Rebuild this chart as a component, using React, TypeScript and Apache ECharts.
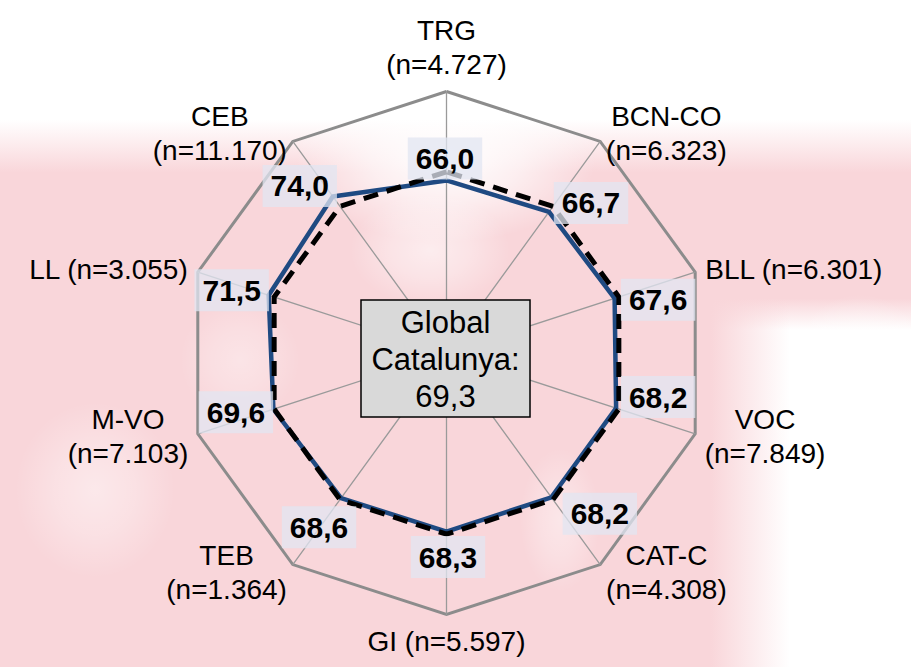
import React, { useEffect, useRef } from "react";
import * as echarts from "echarts";

// Indicator order goes counter-clockwise from the top (ECharts radar convention)
const categories = ["TRG", "CEB", "LL", "M-VO", "TEB", "GI", "CAT-C", "VOC", "BLL", "BCN-CO"];
const sampleSizes = ["4.727", "11.170", "3.055", "7.103", "1.364", "5.597", "4.308", "7.849", "6.301", "6.323"];
const twoLineName = [true, true, false, true, true, false, true, true, false, true];
const scores = [66.0, 74.0, 71.5, 69.6, 68.6, 68.3, 68.2, 68.2, 67.6, 66.7];
const globalScores = [69.3, 69.3, 69.3, 69.3, 69.3, 69.3, 69.3, 69.3, 69.3, 69.3];
const globalValue = 69.3;
const axisMin = 0;
const axisMax = 100;

// label placement (style), px offsets from each point
const labelOffsets: number[][] = [
  [-1.5, -22],
  [-33, -10.5],
  [-37, -5],
  [-37.5, 3],
  [-22, 29],
  [1.5, 25.5],
  [48.5, 16.5],
  [42, -11],
  [43.5, 1.5],
  [42, -9],
];

const FONT = "'Liberation Sans', Arial, Helvetica, sans-serif";
const PINK = "rgba(249,214,218,1)";
const PINK0 = "rgba(249,214,218,0)";

const fmt = (v: number) => v.toFixed(1).replace(".", ",");

function whiteBlob(cx: number, cy: number, r: number, sy: number, a: number) {
  return {
    type: "circle",
    x: cx,
    y: cy,
    scaleY: sy,
    shape: { cx: 0, cy: 0, r },
    style: {
      fill: new echarts.graphic.RadialGradient(0.5, 0.5, 0.5, [
        { offset: 0, color: `rgba(255,255,255,${a})` },
        { offset: 0.5, color: `rgba(255,255,255,${a * 0.6})` },
        { offset: 1, color: "rgba(255,255,255,0)" },
      ]),
    },
    silent: true,
    z: -90,
  };
}

export default function App() {
  const ref = useRef<HTMLDivElement>(null);

  useEffect(() => {
    if (!ref.current) return;
    const chart = echarts.init(ref.current, null, { renderer: "svg" });

    const background: any[] = [
      { type: "rect", shape: { x: 0, y: 0, width: 911, height: 667 }, style: { fill: "#ffffff" }, silent: true, z: -100 },
      {
        type: "rect",
        shape: { x: 0, y: 120, width: 911, height: 210 },
        style: {
          fill: new echarts.graphic.LinearGradient(0, 0, 0, 1, [
            { offset: 0, color: PINK0 },
            { offset: 0.25, color: PINK },
            { offset: 0.85, color: PINK },
            { offset: 1, color: PINK0 },
          ]),
        },
        silent: true,
        z: -95,
      },
      {
        type: "rect",
        shape: { x: 0, y: 280, width: 790, height: 387 },
        style: {
          fill: new echarts.graphic.LinearGradient(0, 0, 1, 0, [
            { offset: 0, color: PINK },
            { offset: 0.9, color: PINK },
            { offset: 1, color: PINK0 },
          ]),
        },
        silent: true,
        z: -95,
      },
      whiteBlob(446, 160, 150, 0.55, 1),
      whiteBlob(430, 250, 80, 0.7, 0.55),
      whiteBlob(95, 490, 80, 1.1, 0.45),
      whiteBlob(560, 520, 40, 1.8, 0.4),
      whiteBlob(240, 360, 60, 1.0, 0.35),
      whiteBlob(860, 420, 90, 1.4, 0.9),
    ];

    const centerBox: any = {
      type: "group",
      z: 100,
      children: [
        {
          type: "rect",
          shape: { x: 361, y: 300, width: 169, height: 117 },
          style: { fill: "#d9d9d9", stroke: "#000000", lineWidth: 1.5 },
          z: 100,
        },
        {
          type: "text",
          x: 445.5,
          y: 359,
          style: {
            text: `Global\nCatalunya:\n${fmt(globalValue)}`,
            font: `31px ${FONT}`,
            lineHeight: 37,
            fill: "#000000",
            align: "center",
            verticalAlign: "middle",
          },
          z: 101,
        },
      ],
    };

    const option: any = {
      animation: false,
      backgroundColor: "#ffffff",
      graphic: [...background, centerBox],
      radar: {
        center: [446.5, 353],
        radius: 261.5,
        startAngle: 90,
        shape: "polygon",
        splitNumber: 1,
        nameGap: 10,
        indicator: categories.map((c) => ({ name: c, min: axisMin, max: axisMax })),
        axisName: {
          color: "#000000",
          fontSize: 28,
          fontFamily: FONT,
          formatter: (name: string) => {
            const i = categories.indexOf(name);
            if (twoLineName[i]) return `{n|${name}}\n{n|(n=${sampleSizes[i]})}`;
            return `{n|${name} (n=${sampleSizes[i]})}`;
          },
          rich: {
            n: { align: "center", fontSize: 28, lineHeight: 34, color: "#000000", fontFamily: FONT },
          },
        },
        axisLine: { lineStyle: { color: "#9a9a9a", width: 1.3 } },
        splitLine: { lineStyle: { color: "#8c8c8c", width: 3 } },
        splitArea: { show: false },
        axisTick: { show: false },
        axisLabel: { show: false },
      },
      series: [
        {
          type: "radar",
          z: 3,
          symbol: "none",
          silent: true,
          lineStyle: { color: "#1f4a82", width: 4.5 },
          data: [{ value: scores, name: "Puntuació" }],
        },
        {
          type: "radar",
          z: 4,
          symbol: "none",
          silent: true,
          lineStyle: { color: "#000000", width: 5, type: [15, 9] },
          data: [{ value: globalScores, name: "Global" }],
        },
        {
          type: "radar",
          z: 5,
          symbol: "circle",
          symbolSize: 1,
          silent: true,
          itemStyle: { color: "rgba(0,0,0,0)" },
          lineStyle: { opacity: 0, width: 0 },
          data: categories.map((c, i) => ({
            value: scores,
            name: c,
            label: {
              show: true,
              position: "inside",
              offset: labelOffsets[i],
              formatter: (p: any) => (p.dimensionIndex === i ? `{b|${fmt(p.value)}}` : ""),
              rich: {
                b: {
                  fontSize: 30,
                  fontWeight: "bold",
                  fontFamily: FONT,
                  color: "#000000",
                  lineHeight: 32,
                  backgroundColor: "rgba(226,230,242,0.75)",
                  padding: [6, 8, 6, 8],
                },
              },
            },
          })),
        },
      ],
    };

    chart.setOption(option);
    return () => chart.dispose();
  }, []);

  return (
    <div
      ref={ref}
      style={{ position: "fixed", left: 0, top: 0, width: 911, height: 667 }}
    />
  );
}
